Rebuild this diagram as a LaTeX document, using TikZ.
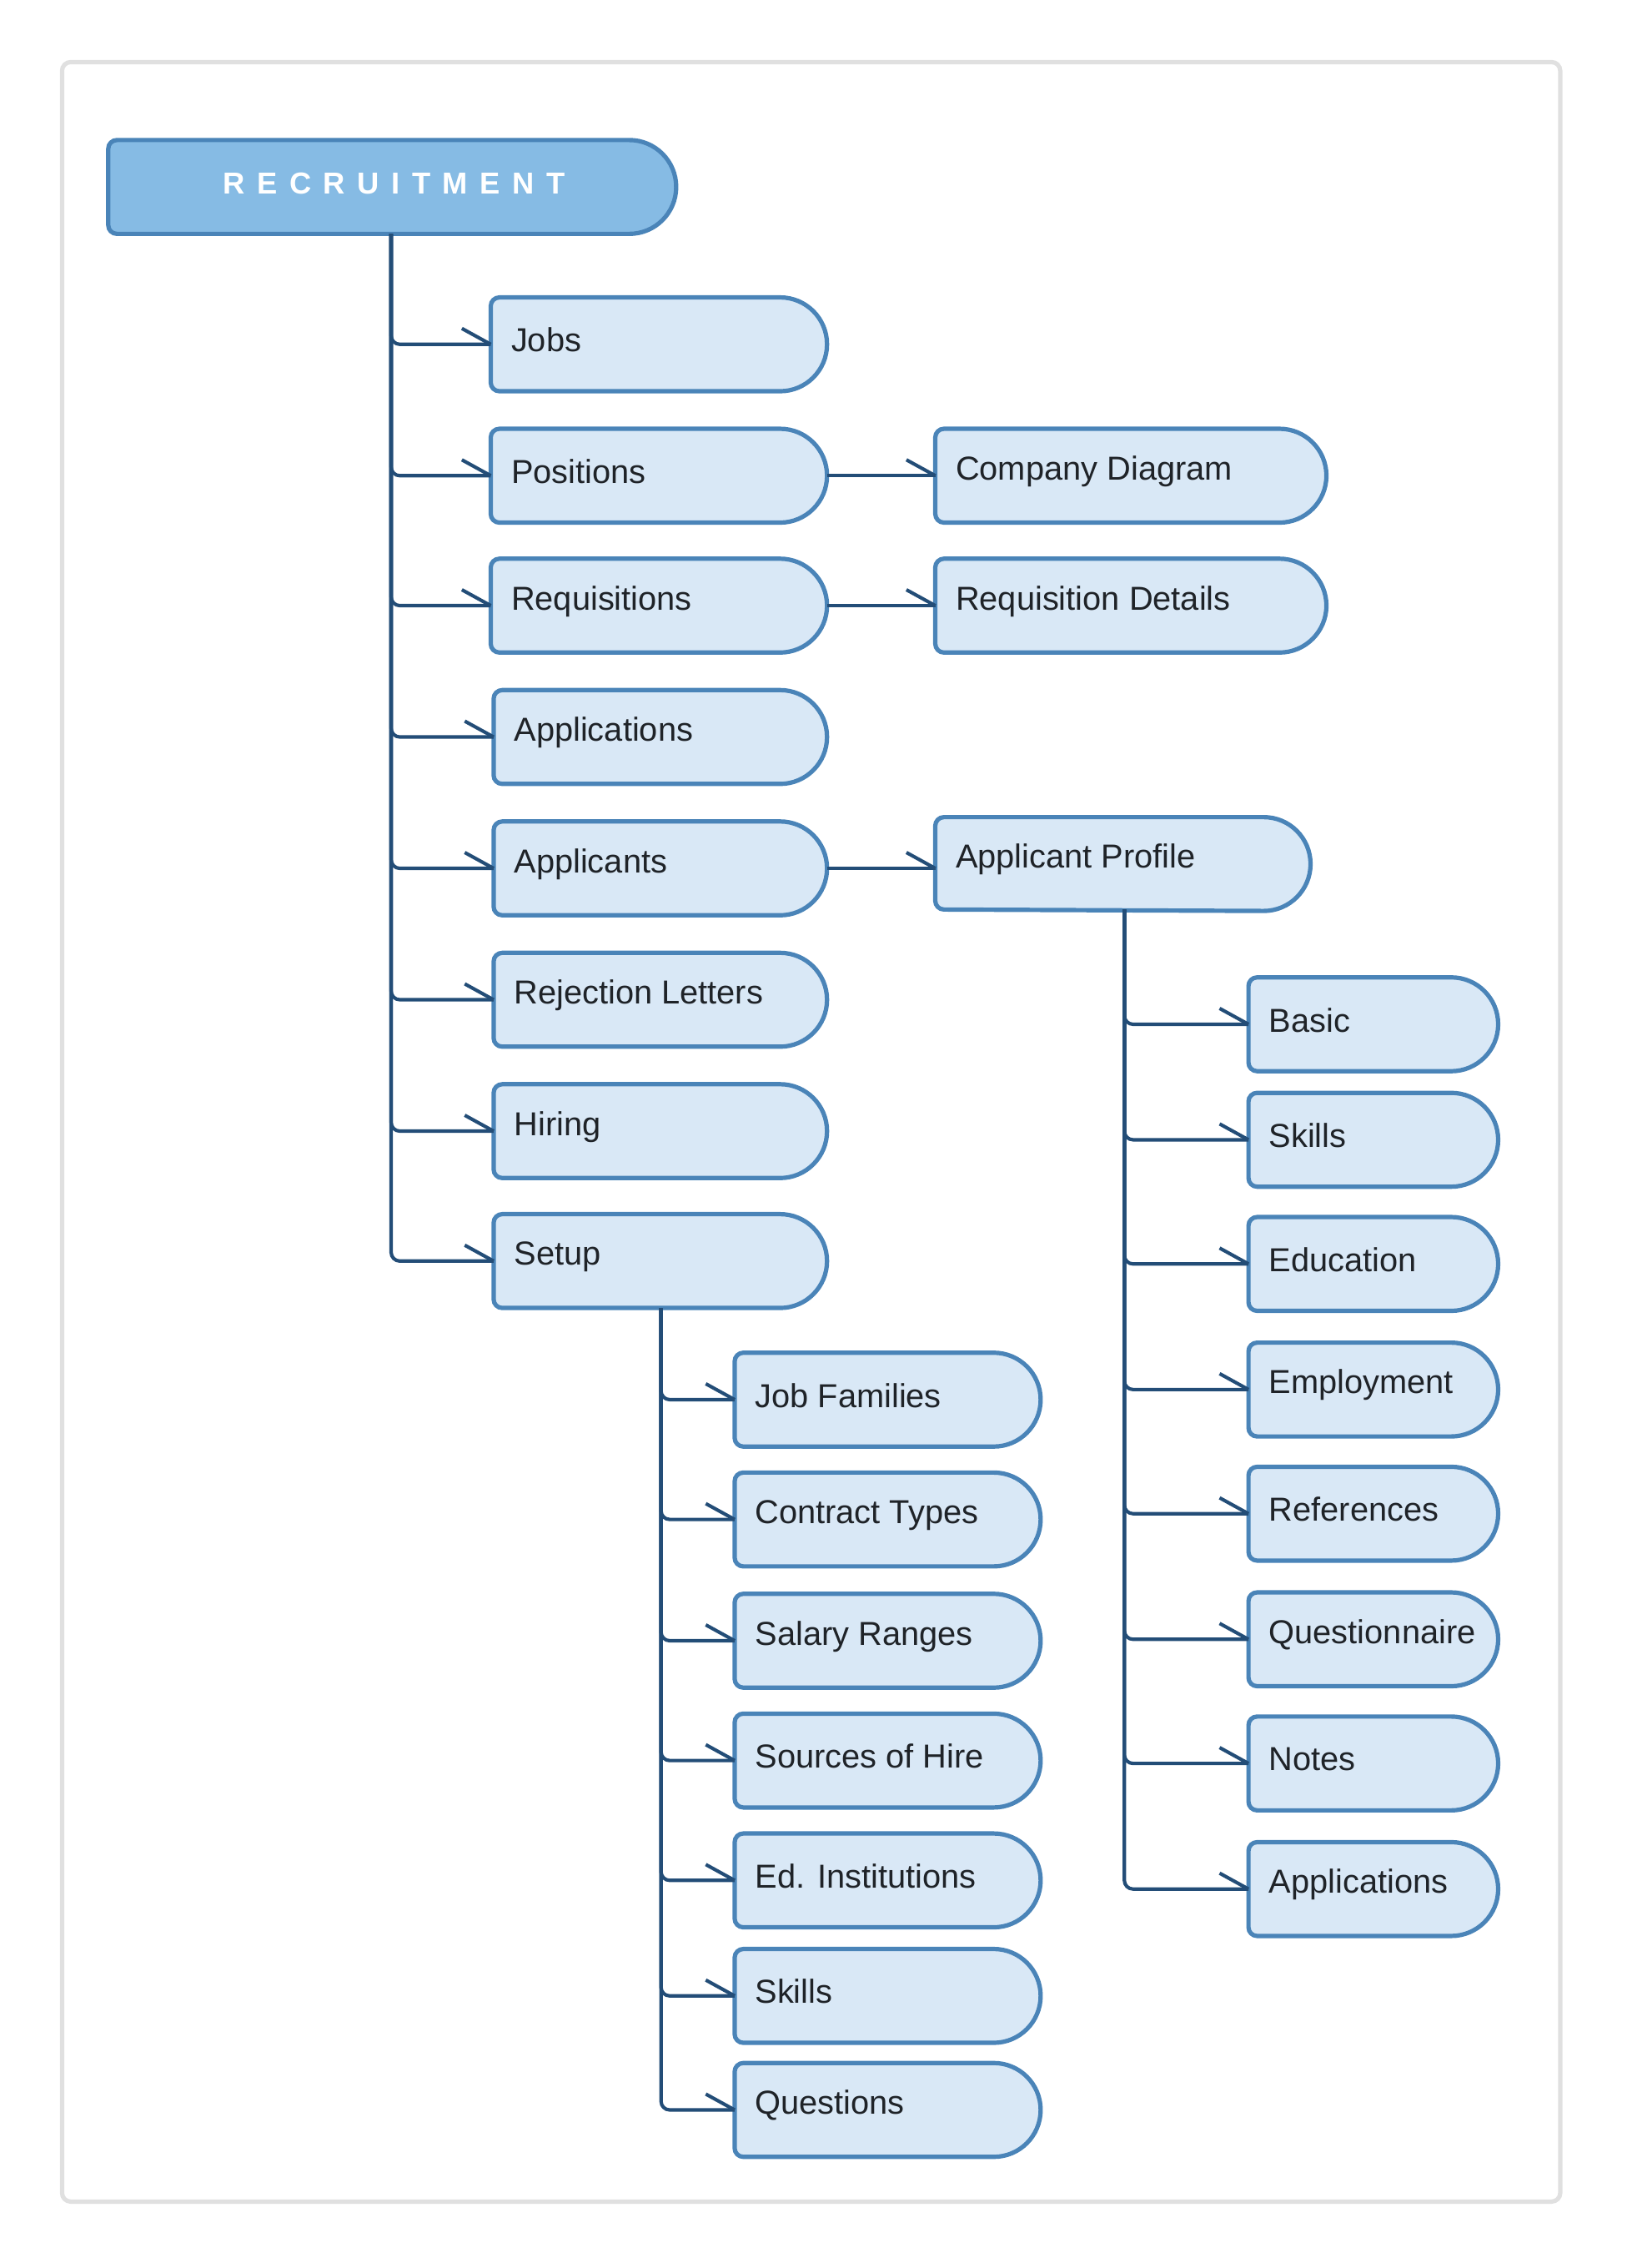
\documentclass[tikz,border=0pt]{standalone}
\usepackage{fontspec}
\setmainfont{Liberation Sans}
\definecolor{boxfill}{HTML}{D9E8F6}
\definecolor{boxline}{HTML}{4A84B8}
\definecolor{conn}{HTML}{234D77}
\definecolor{rootfill}{HTML}{86BBE4}
\definecolor{txt}{HTML}{1F2328}
\tikzset{boxst/.style={draw=boxline,fill=boxfill,line width=3pt},
  connst/.style={draw=conn,line width=2.4pt,rounded corners=6pt},
  barbst/.style={draw=conn,line width=2.4pt},
  lbl/.style={anchor=west,inner sep=0pt,text=txt,font=\fontsize{23}{28}\selectfont}}
\newcommand\pill[6]{%
  \draw[boxst] (#2+6,#3) -- (#4-32.5,#3) arc(-90:90:32.5) -- (#2+6,#5) arc(90:180:6) -- (#2,#3+6) arc(180:270:6) -- cycle;
  \coordinate (#1) at (#2,{(#3+#5)/2});
  \coordinate (#1-e) at (#4,{(#3+#5)/2});
  \node[lbl] (#1-t) at (#2+14,{(#3+#5)/2-3}) {#6};}
\newcommand\link[2]{\draw[connst] (#1) |- (#2); \draw[barbst] (#2) -- ++(-20,-11);}
\newcommand\hlink[2]{\draw[barbst] (#1) -- (#2); \draw[barbst] (#2) -- ++(-20,-11);}
\begin{document}
\begin{tikzpicture}[x=1pt,y=-1pt]
\useasboundingbox (0,0) rectangle (1127,1571);
\draw[draw=black!12,line width=3pt,rounded corners=6pt] (43,43) rectangle (1081,1525);
% root
\draw[draw=boxline,fill=rootfill,line width=3pt] (81,97) -- (436,97) arc(-90:90:32.5) -- (81,162) arc(90:180:6) -- (75,103) arc(180:270:6) -- cycle;
\node[inner sep=0pt,text=white,font=\fontsize{21}{25}\selectfont\bfseries\addfontfeature{LetterSpace=40}] (root) at (273,127) {RECRUITMENT};
\coordinate (t1) at (271,162);
\coordinate (t2) at (458,906);
\coordinate (t3) at (779,630);
% column 1
\pill{jobs}{340}{206}{573}{271}{Jobs}
\pill{pos}{340}{297}{573}{362}{Positions}
\pill{req}{340}{387}{573}{452}{Requisitions}
\pill{appl}{342}{478}{573}{543}{Applications}
\pill{apps}{342}{569}{573}{634}{Applicants}
\pill{rej}{342}{660}{573}{725}{Rejection Letters}
\pill{hir}{342}{751}{573}{816}{Hiring}
\pill{set}{342}{841}{573}{906}{Setup}
% column 2
\pill{comp}{648}{297}{919}{362}{Company Diagram}
\pill{reqd}{648}{387}{919}{452}{Requisition Details}
\pill{prof}{648}{566}{908}{630}{Applicant Profile}
% profile children
\pill{basic}{865}{677}{1038}{742}{Basic}
\pill{pskill}{865}{757}{1038}{822}{Skills}
\pill{edu}{865}{843}{1038}{908}{Education}
\pill{emp}{865}{930}{1038}{995}{Employment}
\pill{refs}{865}{1016}{1038}{1081}{References}
\pill{quest}{865}{1103}{1038}{1168}{Questionnaire}
\pill{notes}{865}{1189}{1038}{1254}{Notes}
\pill{papp}{865}{1276}{1038}{1341}{Applications}
% setup children
\pill{jf}{509}{937}{721}{1002}{Job Families}
\pill{ct}{509}{1020}{721}{1085}{Contract Types}
\pill{sr}{509}{1104}{721}{1169}{Salary Ranges}
\pill{soh}{509}{1187}{721}{1252}{Sources of Hire}
\pill{ei}{509}{1270}{721}{1335}{Ed. Institutions}
\pill{sk}{509}{1350}{721}{1415}{Skills}
\pill{qs}{509}{1429}{721}{1494}{Questions}
% connectors
\foreach \n in {jobs,pos,req,appl,apps,rej,hir,set} {\link{t1}{\n}}
\foreach \n in {basic,pskill,edu,emp,refs,quest,notes,papp} {\link{t3}{\n}}
\foreach \n in {jf,ct,sr,soh,ei,sk,qs} {\link{t2}{\n}}
\hlink{pos-e}{comp}
\hlink{req-e}{reqd}
\draw[barbst] (apps-e) -- (apps-e -| prof); \draw[barbst] (apps-e -| prof) -- ++(-20,-11);
\end{tikzpicture}
\end{document}
